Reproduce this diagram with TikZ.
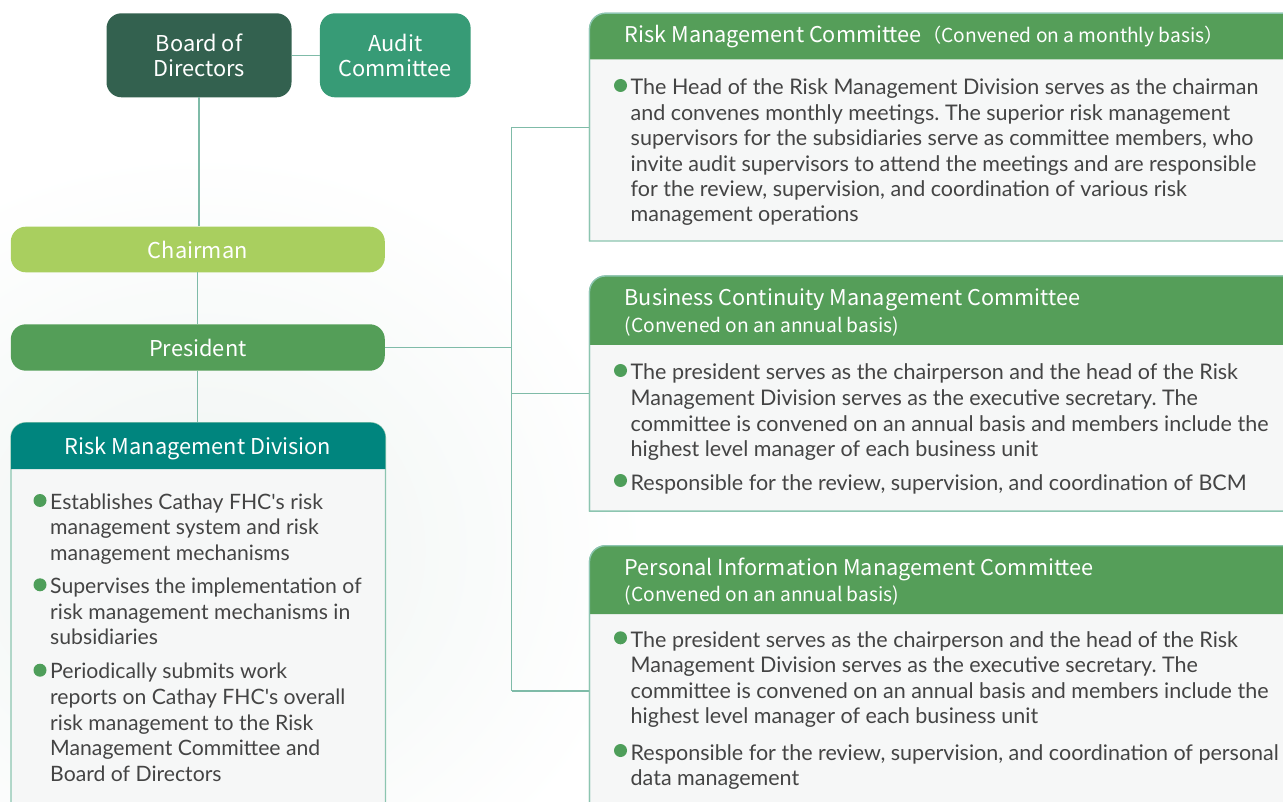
\documentclass[tikz,border=0pt]{standalone}
\usepackage{fontspec}
\setmainfont{Lato}
\newfontfamily\hfont{Noto Sans CJK TC}
\usetikzlibrary{calc}
\definecolor{boardc}{HTML}{33614F}
\definecolor{auditc}{HTML}{379B76}
\definecolor{chairc}{HTML}{A9CF5F}
\definecolor{presc}{HTML}{549E58}
\definecolor{rmdc}{HTML}{00857E}
\definecolor{hdrc}{HTML}{559E59}
\definecolor{bodyc}{HTML}{F6F7F7}
\definecolor{borderc}{HTML}{8CC5B0}
\definecolor{connc}{HTML}{7FBBA8}
\definecolor{txtc}{HTML}{444444}
\definecolor{bulc}{HTML}{4E9E5A}
\definecolor{bgc}{HTML}{EFF4F2}
\tikzset{
 conn/.style={draw=connc, line width=1.3pt},
 titlebox/.style={rounded corners=15pt, text=white, inner sep=0pt, align=center, font=\hfont\fontsize{21.8}{25}\selectfont},
 ph/.style={draw=none, inner sep=0pt, anchor=north west},
 bodyfill/.style={fill=bodyc, draw=borderc, line width=1.3pt},
 bordline/.style={draw=borderc, line width=1.3pt},
 bodytxt/.style={anchor=base west, inner sep=0pt, text=txtc, font=\frenchspacing\fontsize{21.5}{24}\selectfont},
 rmdtxt/.style={bodytxt, font=\frenchspacing\fontsize{21.2}{24}\selectfont},
 hdrtxt/.style={anchor=base west, inner sep=0pt, text=white, font=\hfont\fontsize{21.7}{25}\selectfont},
 subtxt/.style={anchor=base west, inner sep=0pt, text=white, font=\hfont\fontsize{19.2}{22}\selectfont},
 bul/.style={fill=bulc}
}
\newcommand\cboxshape[2]{%
 \filldraw[bodyfill] (#1.south west) -- ($(#1.north west)+(0,16)$) .. controls ($(#1.north west)+(0,7.2)$) and ($(#1.north west)+(7.2,0)$) .. ($(#1.north west)+(16,0)$) -- (#1.north east) -- (#1.south east) -- cycle;
 \fill[hdrc] ($(#1.north west)+(0,#2)$) -- ($(#1.north west)+(0,16)$) .. controls ($(#1.north west)+(0,7.2)$) and ($(#1.north west)+(7.2,0)$) .. ($(#1.north west)+(16,0)$) -- (#1.north east) -- ($(#1.north east)+(0,#2)$) -- cycle;
 \draw[bordline] (#1.south west) -- ($(#1.north west)+(0,16)$) .. controls ($(#1.north west)+(0,7.2)$) and ($(#1.north west)+(7.2,0)$) .. ($(#1.north west)+(16,0)$) -- (#1.north east);
}
\newcommand\bulat[1]{\fill[bul] (#1) circle[radius=6.5pt];}
\begin{document}
\begin{tikzpicture}[x=1pt,y=-1pt]
\useasboundingbox (0,0) rectangle (1283,802);
\clip (0,0) rectangle (1283,802);
\fill[white] (0,0) rectangle (1283,802);
\shade[inner color=bgc, outer color=white] (-250,150) rectangle (650,950);

% top boxes
\node[titlebox, fill=boardc, minimum width=185pt, minimum height=84pt] (board) at (199,55.3) {Board of\\Directors};
\node[titlebox, fill=auditc, minimum width=150.7pt, minimum height=84pt] (audit) at (395.3,55.3) {Audit\\Committee};
\node[titlebox, fill=chairc, minimum width=374pt, minimum height=45.6pt] (chair) at (197.8,249.5) {Chairman};
\node[titlebox, fill=presc, minimum width=374pt, minimum height=46.4pt] (pres) at (197.8,347.5) {President};

% placeholders for the big boxes
\node[ph, minimum width=374pt, minimum height=400pt] (rmd) at (11,422.7) {};
\node[ph, minimum width=710pt, minimum height=227.4pt] (rmc) at (589.5,13.3) {};
\node[ph, minimum width=710pt, minimum height=234.7pt] (bcm) at (589.5,276) {};
\node[ph, minimum width=710pt, minimum height=280pt] (pim) at (589.5,545.7) {};

% connectors
\coordinate (j1) at (511.5,127.3);
\coordinate (j2) at (511.5,393.3);
\coordinate (j3) at (511.5,691);
\draw[conn] (board) -- (audit);
\draw[conn] (board.south) -- (board.south |- chair.north);
\draw[conn] (chair.south) -- (pres.north);
\draw[conn] (pres.south) -- (rmd.north -| pres.south);
\draw[conn] (pres.east) -- (pres.east -| j1);
\draw[conn] (j1) -- (j3);
\draw[conn] (j1) -- (j1 -| rmc.west);
\draw[conn] (j2) -- (j2 -| bcm.west);
\draw[conn] (j3) -- (j3 -| pim.west);

% RMD box
\filldraw[bodyfill] (rmd.south west) -- ($(rmd.north west)+(0,15)$) .. controls ($(rmd.north west)+(0,6.7)$) and ($(rmd.north west)+(6.7,0)$) .. ($(rmd.north west)+(15,0)$) -- ($(rmd.north east)+(-15,0)$) .. controls ($(rmd.north east)+(-6.7,0)$) and ($(rmd.north east)+(0,6.7)$) .. ($(rmd.north east)+(0,15)$) -- (rmd.south east) -- cycle;
\fill[rmdc] ($(rmd.north west)+(0,46.3)$) -- ($(rmd.north west)+(0,15)$) .. controls ($(rmd.north west)+(0,6.7)$) and ($(rmd.north west)+(6.7,0)$) .. ($(rmd.north west)+(15,0)$) -- ($(rmd.north east)+(-15,0)$) .. controls ($(rmd.north east)+(-6.7,0)$) and ($(rmd.north east)+(0,6.7)$) .. ($(rmd.north east)+(0,15)$) -- ($(rmd.north east)+(0,46.3)$) -- cycle;
\node[titlebox, anchor=base] (rmdt) at (198,454) {Risk Management Division};

% committee boxes
\cboxshape{rmc}{46}
\cboxshape{bcm}{69}
\cboxshape{pim}{68.3}

% RMC text
\node[hdrtxt] (rmct) at (624.5,42.3) {Risk Management Committee};
\node[subtxt] (rmcs) at (rmct.base east) {（Convened on a monthly basis）};
\bulat{620.5,85.5}
\node[bodytxt] (r1) at (630.5,95) {The Head of the Risk Management Division serves as the chairman};
\node[bodytxt] (r2) at (630.5,120.4) {and convenes monthly meetings. The superior risk management};
\node[bodytxt] (r3) at (630.5,145.8) {supervisors for the subsidiaries serve as committee members, who};
\node[bodytxt] (r4) at (630.5,171.2) {invite audit supervisors to attend the meetings and are responsible};
\node[bodytxt] (r5) at (630.5,196.6) {for the review, supervision, and coordination of various risk};
\node[bodytxt] (r6) at (630.5,222) {management operations};

% BCM text
\node[hdrtxt] (bcmt) at (624.5,306) {Business Continuity Management Committee};
\node[subtxt] (bcms) at (624.5,332.3) {(Convened on an annual basis)};
\bulat{620.5,370.5}
\node[bodytxt] (b1) at (630.5,380) {The president serves as the chairperson and the head of the Risk};
\node[bodytxt] (b2) at (630.5,405.5) {Management Division serves as the executive secretary. The};
\node[bodytxt] (b3) at (630.5,431) {committee is convened on an annual basis and members include the};
\node[bodytxt] (b4) at (630.5,456.5) {highest level manager of each business unit};
\bulat{620.5,480.5}
\node[bodytxt] (b5) at (630.5,490) {Responsible for the review, supervision, and coordination of BCM};

% PIM text
\node[hdrtxt] (pimt) at (624.5,575.7) {Personal Information Management Committee};
\node[subtxt] (pims) at (624.5,601) {(Convened on an annual basis)};
\bulat{620.5,637.8}
\node[bodytxt] (p1) at (630.5,647.3) {The president serves as the chairperson and the head of the Risk};
\node[bodytxt] (p2) at (630.5,672.8) {Management Division serves as the executive secretary. The};
\node[bodytxt] (p3) at (630.5,698.3) {committee is convened on an annual basis and members include the};
\node[bodytxt] (p4) at (630.5,723.8) {highest level manager of each business unit};
\bulat{620.5,750.5}
\node[bodytxt] (p5) at (630.5,760) {Responsible for the review, supervision, and coordination of personal};
\node[bodytxt] (p6) at (630.5,785.5) {data management};

% RMD text
\bulat{40,500.5}
\node[rmdtxt] (d1) at (50,509) {Establishes Cathay FHC\textquotesingle s risk};
\node[rmdtxt] (d2) at (50,534.7) {management system and risk};
\node[rmdtxt] (d3) at (50,560.4) {management mechanisms};
\bulat{40,584.8}
\node[rmdtxt] (d4) at (50,593.3) {Supervises the implementation of};
\node[rmdtxt] (d5) at (50,619) {risk management mechanisms in};
\node[rmdtxt] (d6) at (50,644.7) {subsidiaries};
\bulat{40,670.2}
\node[rmdtxt] (d7) at (50,678.7) {Periodically submits work};
\node[rmdtxt] (d8) at (50,704.4) {reports on Cathay FHC\textquotesingle s overall};
\node[rmdtxt] (d9) at (50,730) {risk management to the Risk};
\node[rmdtxt] (d10) at (50,755.7) {Management Committee and};
\node[rmdtxt] (d11) at (50,781.4) {Board of Directors};
\end{tikzpicture}
\end{document}
